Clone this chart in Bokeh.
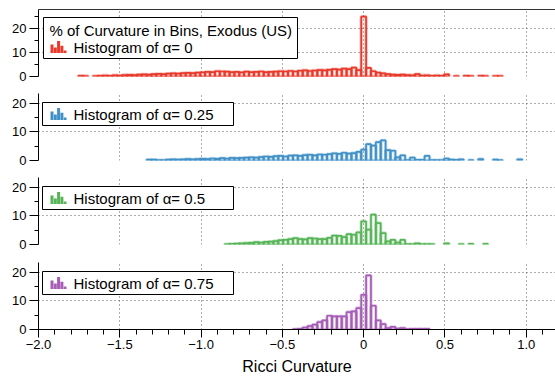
from bokeh.plotting import figure
from bokeh.layouts import column
from bokeh.models import Range1d, FixedTicker, LinearAxis, Grid, Label, ColumnDataSource
from bokeh.embed import file_html
from bokeh.resources import INLINE

# ---------------- data ----------------
BIN_WIDTH = 0.03
TITLE = "% of Curvature in Bins, Exodus (US)"
SERIES_LABELS = ["Histogram of α= 0", "Histogram of α= 0.25",
                 "Histogram of α= 0.5", "Histogram of α= 0.75"]
COLORS = ["#e8392b", "#4191c6", "#57b558", "#a65db6"]
# index of first bin (bin centre = index * BIN_WIDTH)
FIRST_BIN = [-58, -44, -28, -14]

H_A0 = [0.3, 0.2, 0.0, 0.2, 0.3, 0.4, 0.3, 0.5, 0.4, 0.6,
        0.7, 0.6, 0.8, 0.9, 0.8, 1.0, 1.1, 1.0, 1.2, 1.3,
        1.2, 1.4, 1.5, 1.4, 1.6, 1.7, 1.9, 1.8, 2.2, 2.1,
        2.0, 1.8, 1.9, 1.7, 2.0, 1.8, 1.9, 2.1, 1.8, 1.9,
        2.0, 2.2, 2.1, 2.3, 2.1, 2.4, 2.6, 2.3, 2.5, 2.7,
        2.6, 2.8, 3.1, 2.9, 3.3, 3.1, 3.7, 2.7,
        25.0,
        3.6, 2.2, 1.6, 1.3, 1.0, 0.8, 0.7, 0.8, 0.6, 0.5,
        1.0, 0.4, 0.5, 0.3, 0.4, 0.3, 0.9, 0.0, 0.2, 0.0,
        0.3, 0.2, 0.0, 0.3, 0.2, 0.0, 0.2, 0.2]

H_A025 = [0.3, 0.3, 0.1, 0.1, 0.3, 0.4, 0.3, 0.4, 0.5, 0.4,
          0.5, 0.6, 0.5, 0.7, 0.6, 0.8, 0.7, 0.9, 0.8, 0.9,
          1.0, 1.1, 1.0, 1.2, 1.4, 1.3, 1.5, 1.6, 1.4, 1.7,
          1.8, 1.6, 1.9, 2.0, 1.8, 2.1, 2.0, 2.2, 2.5, 2.3,
          2.7, 2.4, 2.6, 3.0,
          3.8, 5.7, 5.2, 6.4, 7.0, 3.6, 3.4, 1.1, 1.8, 0.1,
          1.0, 0.2, 0.2, 1.6, 0.1, 0.1, 0.1, 0.7, 0.3, 0.2,
          0.4, 0.0, 0.1, 0.0, 0.5, 0.0, 0.0, 0.3, 0.1, 0.0,
          0.0, 0.0, 0.4]

H_A05 = [0.1, 0.2, 0.3, 0.4, 0.5, 0.6, 0.8, 0.7, 0.9, 1.0,
         1.2, 1.5, 1.6, 1.9, 2.2, 1.9, 1.8, 2.2, 2.1, 1.9,
         1.9, 2.3, 3.1, 3.0, 2.6, 3.6, 3.4, 4.2,
         8.1, 5.2, 10.4, 7.5, 4.0, 1.1, 1.6, 0.7, 1.6, 0.1,
         0.1, 0.4, 0.1, 0.1, 0.1, 0.0, 0.0, 0.4, 0.0, 0.0,
         0.1, 0.0, 0.2, 0.0, 0.0, 0.2]

H_A075 = [0.1, 0.2, 0.7, 1.2, 1.7, 2.6, 3.2, 4.8, 4.6, 4.6,
          4.6, 6.1, 6.3, 7.5,
          12.1, 18.9, 8.3, 3.2, 1.9, 0.5, 0.9, 0.3, 0.5, 0.1,
          0.2, 0.2, 0.2, 0.2]

SERIES = [H_A0, H_A025, H_A05, H_A075]

X_TICKS = [-2.0, -1.5, -1.0, -0.5, 0.0, 0.5, 1.0]
X_TICK_LABELS = ["\u22122.0", "\u22121.5", "\u22121.0", "\u22120.5", "0", "0.5", "1.0"]
X_MINOR = [round(-2.0 + 0.1 * i, 1) for i in range(32)]
Y_TICKS = [0, 10, 20]
Y_MINOR = [5, 15, 25]
X_LABEL = "Ricci Curvature"

# ---------------- layout ----------------
WIDTH = 555
LEFT = 38
FRAME_W = WIDTH - LEFT
FRAME_H = 67
X0, X1 = -2.0, 1.18
YMAX = [28.0, 23.4, 23.4, 23.4]
FIG_H = [84, 84, 85, 128]
TOP = 9
FONT = "Liberation Sans"
GRID_COLOR = "#5a5a5a"

xr = Range1d(X0, X1)


def fx(px):
    return X0 + (px - LEFT) * (X1 - X0) / FRAME_W


def make_fy(ymax):
    def fy(py):
        return ymax * (1 - py / FRAME_H)
    return fy


# legend specs: (box left, box top, box right, box bottom) in frame px, rows
LEGENDS = [
    dict(box=(43, 8, 297, 49), title_y=20.5, item_y=37.5),
    dict(box=(42, 9, 233, 32), title_y=None, item_y=20.5),
    dict(box=(42, 9, 233, 32), title_y=None, item_y=20.5),
    dict(box=(42, 9, 233, 32), title_y=None, item_y=20.5),
]
ICON_REL = [(0, 3, 0.7), (3.3, 6.3, 0.45), (6.6, 9.6, 1.0), (9.9, 12.9, 0.6), (13.2, 16, 0.2)]

figs = []
n = len(SERIES)
for i in range(n):
    last = i == n - 1
    h = FIG_H[i]
    ymax = YMAX[i]
    fy = make_fy(ymax)
    p = figure(width=WIDTH, height=h, x_range=xr, y_range=Range1d(0, ymax),
               output_backend="svg", toolbar_location=None,
               x_axis_location="below" if last else None,
               min_border_left=LEFT, min_border_right=0,
               min_border_top=TOP, min_border_bottom=h - TOP - FRAME_H)
    p.outline_line_color = None
    p.background_fill_color = "white"
    p.border_fill_color = "white"

    yax = p.yaxis[0]
    yax.ticker = FixedTicker(ticks=Y_TICKS, minor_ticks=[m for m in Y_MINOR if m < ymax])
    yax.major_tick_out = 9
    yax.major_tick_in = 0
    yax.minor_tick_out = 4
    yax.minor_tick_in = 0
    yax.major_label_standoff = 3
    yax.major_label_text_font = FONT
    yax.major_label_text_font_size = "13px"
    yax.major_label_text_color = "black"
    yax.axis_line_color = "black"
    yax.major_tick_line_color = "black"
    yax.minor_tick_line_color = "black"

    p.ygrid.grid_line_color = GRID_COLOR
    p.ygrid.grid_line_dash = "1 3"
    p.ygrid.grid_line_width = 1
    p.xgrid.visible = False
    vg = Grid(dimension=0, ticker=FixedTicker(ticks=X_TICKS),
              grid_line_color=GRID_COLOR, grid_line_dash="1 3", grid_line_width=1)
    p.add_layout(vg, "center")

    if i == 0:
        top_ax = LinearAxis(ticker=FixedTicker(ticks=[]), major_label_text_font_size="0px",
                            major_tick_out=0, major_tick_in=0, minor_tick_out=0, minor_tick_in=0,
                            major_label_standoff=0, axis_line_color="#333333")
        p.add_layout(top_ax, "above")

    if last:
        xax = p.xaxis[0]
        xax.ticker = FixedTicker(ticks=X_TICKS, minor_ticks=X_MINOR)
        xax.major_label_overrides = {t: l for t, l in zip(X_TICKS, X_TICK_LABELS)}
        xax.major_tick_out = 8
        xax.major_tick_in = 0
        xax.minor_tick_out = 5
        xax.minor_tick_in = 0
        xax.major_label_standoff = 2
        xax.major_label_text_font = FONT
        xax.major_label_text_font_size = "13px"
        xax.major_label_text_color = "black"
        xax.axis_line_color = "black"
        xax.major_tick_line_color = "black"
        xax.minor_tick_line_color = "black"
        xax.axis_label = X_LABEL
        xax.axis_label_text_font = FONT
        xax.axis_label_text_font_size = "16px"
        xax.axis_label_text_font_style = "normal"
        xax.axis_label_text_color = "black"
        xax.axis_label_standoff = 6

    # histogram bars
    heights = SERIES[i]
    lefts, rights, tops = [], [], []
    for j, hv in enumerate(heights):
        if hv <= 0:
            continue
        c = (FIRST_BIN[i] + j) * BIN_WIDTH
        lefts.append(c - BIN_WIDTH / 2)
        rights.append(c + BIN_WIDTH / 2)
        tops.append(hv)
    src = ColumnDataSource(dict(left=lefts, right=rights, top=tops, bottom=[0] * len(tops)))
    p.quad(source=src, left="left", right="right", top="top", bottom="bottom",
           fill_color=None, line_color=COLORS[i], line_width=3.4, line_alpha=0.3)
    p.quad(source=src, left="left", right="right", top="top", bottom="bottom",
           fill_color=None, line_color=COLORS[i], line_width=1.7, line_alpha=1.0)

    # legend box
    lg = LEGENDS[i]
    bl, bt, br, bb = lg["box"]
    p.quad(left=fx(bl), right=fx(br), top=fy(bt), bottom=fy(bb),
           fill_color="white", line_color="black", line_width=1)
    # icon
    iy = lg["item_y"]
    ix0 = 50
    ibot = iy + 6
    itop_full = 12
    il, ir, it, ib = [], [], [], []
    for a, b, frac in ICON_REL:
        il.append(fx(ix0 + a))
        ir.append(fx(ix0 + b))
        it.append(fy(ibot - itop_full * frac))
        ib.append(fy(ibot))
    p.quad(left=il, right=ir, top=it, bottom=ib, fill_color=COLORS[i], line_color=None)
    if lg["title_y"] is not None:
        p.add_layout(Label(x=fx(49), y=fy(lg["title_y"]), text=TITLE, text_font=FONT,
                           text_font_size="15px", text_baseline="middle", text_align="left",
                           text_color="black"))
    p.add_layout(Label(x=fx(73), y=fy(iy), text=SERIES_LABELS[i], text_font=FONT,
                       text_font_size="15px", text_baseline="middle", text_align="left",
                       text_color="black"))
    figs.append(p)

layout = column(*figs)
open("out.html", "w").write(file_html(layout, INLINE, "Ricci Curvature"))
